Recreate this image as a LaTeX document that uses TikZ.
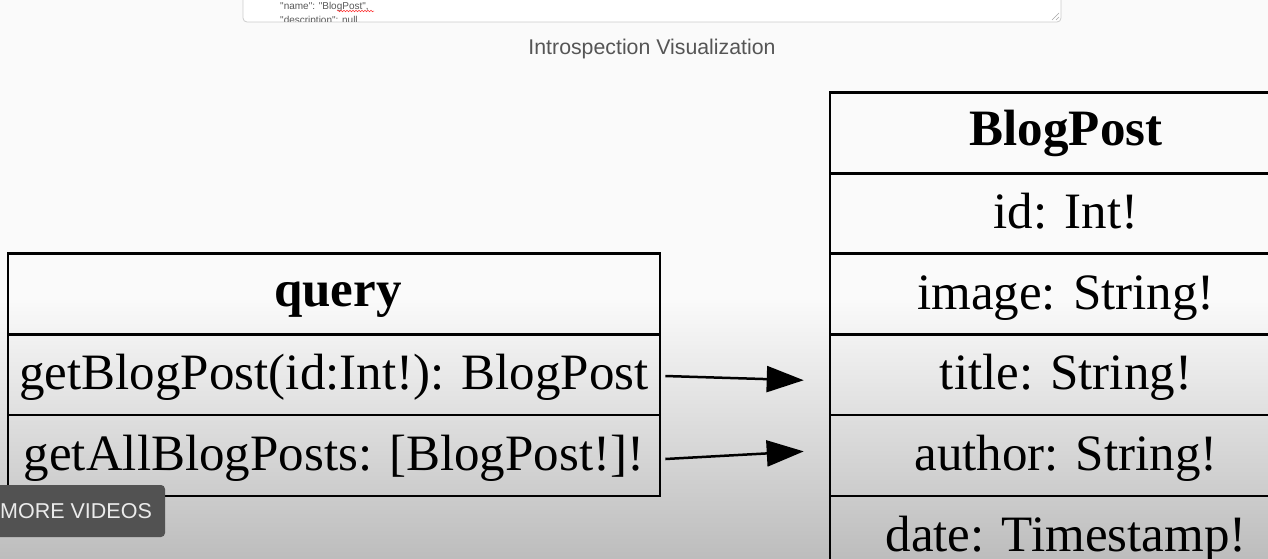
\documentclass[tikz,border=0pt]{standalone}
\usepackage{fontspec}
\setmainfont{Liberation Serif}
\newfontfamily\uisans{Liberation Sans}
\usetikzlibrary{arrows.meta,decorations.pathmorphing}
\definecolor{bgtop}{HTML}{FAFAFA}
\definecolor{bgmid}{HTML}{E9E9E9}
\definecolor{bgbot}{HTML}{BDBDBD}
\definecolor{captxt}{HTML}{555555}
\definecolor{overlay}{HTML}{525252}
\begin{document}
\begin{tikzpicture}[x=1pt,y=-1pt,
  cell/.style={draw=black, line width=2.6pt, inner sep=0pt, minimum height=81pt,
    text height=40pt, text depth=10pt, font=\fontsize{51}{61}\selectfont},
  head/.style={cell, text height=37pt, text depth=13pt, font=\fontsize{51}{61}\selectfont\bfseries},
  qcell/.style={minimum width=652pt},
  bcell/.style={minimum width=472pt},
  link/.style={line width=2.5pt, -{Triangle[length=37pt,width=26pt]}, shorten >=25pt},
  code/.style={anchor=base west, inner sep=0pt, text=black!65, font=\uisans\fontsize{10}{12}\selectfont},
]
\useasboundingbox (0,0) rectangle (1268,558);
\begin{scope}
\clip (0,0) rectangle (1268,558);
% background
\fill[bgtop] (0,0) rectangle (1268,558);
\shade[top color=bgtop, middle color=bgmid, bottom color=bgbot] (0,300) rectangle (1268,558);

% top text box (JSON output)
\draw[draw=black!20, fill=white, rounded corners=4pt, line width=0.8pt] (243,-10) rectangle (1061,22);
\begin{scope}
\clip (244,-10) rectangle (1060,21);
\node[code] (json1) at (280,9) {"name": "BlogPost",};
\node[code] (json2) at (280,23) {"description": null,};
\end{scope}
\draw[red!80, line width=0.5pt, decorate, decoration={snake, amplitude=0.8pt, segment length=3pt}] (337,11) -- (374,11);
\draw[black!35, line width=0.6pt] (1052,20) -- (1059,13) (1056,20) -- (1059,17);

% caption
\node[inner sep=0pt, text=captxt, font=\uisans\fontsize{21.3}{25}\selectfont] (cap) at (652,48.5) {Introspection Visualization};

% query table
\node[head, qcell] (qh) at (334,294) {\hspace*{8pt}query};
\node[cell, qcell] (q1) at (334,374.5) {getBlogPost(id:Int!): BlogPost};
\node[cell, qcell] (q2) at (334,455.5) {getAllBlogPosts: [BlogPost!]!};

% BlogPost table
\node[head, bcell] (bh) at (1066,133) {BlogPost};
\node[cell, bcell] (b1) at (1066,213.5) {id: Int!};
\node[cell, bcell] (b2) at (1066,294) {image: String!};
\node[cell, bcell] (b3) at (1066,374.5) {title: String!};
\node[cell, bcell] (b4) at (1066,455.5) {author: String!};
\node[cell, bcell] (b5) at (1066,536.5) {date: Timestamp!};

% connectors
\draw[link] ([xshift=4pt,yshift=-1.5pt]q1.east) -- ([yshift=-6.5pt]b3.west);
\draw[link] ([xshift=4pt,yshift=-3.5pt]q2.east) -- ([yshift=5.5pt]b4.west);

% video overlay button
\node[fill=overlay, rounded corners=4pt, minimum width=178pt, minimum height=52pt, inner sep=0pt,
  text=white!92!black, font=\uisans\fontsize{21.5}{24}\selectfont] (more) at (76,511) {MORE VIDEOS};
\end{scope}
\end{tikzpicture}
\end{document}
